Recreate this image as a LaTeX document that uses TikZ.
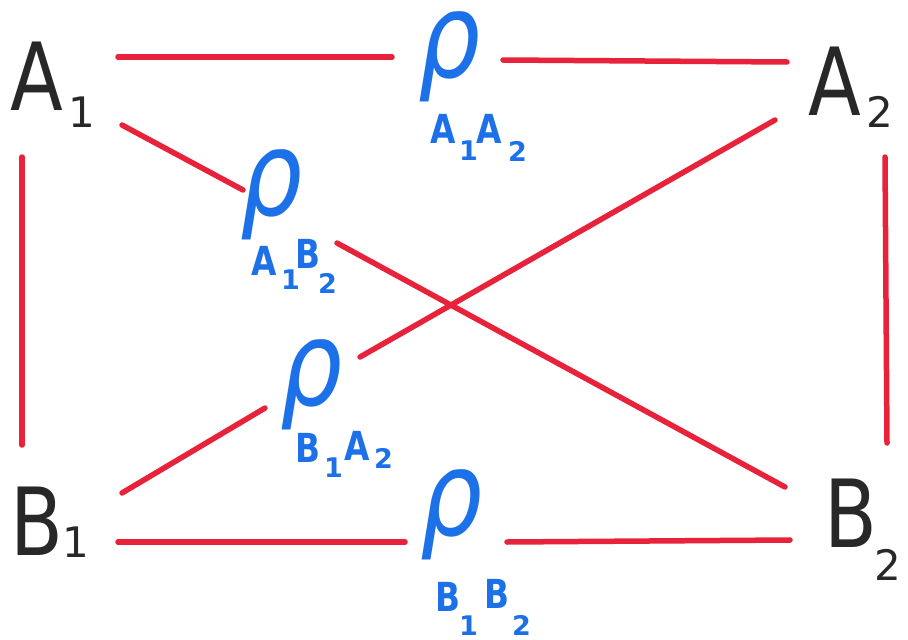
\documentclass[tikz,border=0pt]{standalone}
\usepackage{fontspec}
\setmainfont{DejaVu Sans}
\newfontfamily\rhofont{DejaVu Sans Oblique}
\usepackage{graphicx}
\definecolor{lred}{RGB}{232,34,58}
\definecolor{lblue}{RGB}{28,112,232}
\definecolor{ink}{RGB}{40,40,40}
\newcommand\narrowtxt[1]{\scalebox{0.82}[1]{#1}}
\tikzset{
  edge/.style={lred, line width=5.5pt, line cap=round},
  bigl/.style={inner sep=0pt, anchor=base west, text=ink, font=\fontsize{94}{94}\selectfont},
  bigsub/.style={inner sep=0pt, anchor=base west, text=ink, font=\fontsize{42}{42}\selectfont},
  rhol/.style={inner sep=0pt, anchor=base west, text=lblue, font=\rhofont\fontsize{98}{98}\selectfont},
  rsub/.style={inner sep=0pt, anchor=base west, text=lblue, font=\bfseries\fontsize{40}{40}\selectfont},
  rsubsub/.style={inner sep=0pt, anchor=base west, text=lblue, font=\bfseries\fontsize{27}{27}\selectfont}
}
\begin{document}
\begin{tikzpicture}[x=1pt,y=-1pt]
\useasboundingbox (0,0) rectangle (908,640);
\fill[white] (0,0) rectangle (908,640);
% corner labels
\node[bigl] (A1) at (10,110) {\narrowtxt{A}};
\node[bigsub] (A1s) at (68,127) {1};
\node[bigl] (A2) at (808,115) {\narrowtxt{A}};
\node[bigsub] (A2s) at (866,127) {2};
\node[bigl] (B1) at (10,555) {\narrowtxt{B}};
\node[bigsub] (B1s) at (62,557) {1};
\node[bigl] (B2) at (824,547) {\narrowtxt{B}};
\node[bigsub] (B2s) at (874,580) {2};
% rho labels
\begin{scope}[shift={(418,77)}]
 \node[rhol] (rAA) at (0,0) {\scalebox{1}[1.2]{ρ}};
 \node[rsub] (rAAa) at (12,66) {\narrowtxt{A}};
 \node[rsubsub] (rAAb) at (41,83) {1};
 \node[rsub] (rAAc) at (58,66) {\narrowtxt{A}};
 \node[rsubsub] (rAAd) at (90,84) {2};
\end{scope}
\begin{scope}[shift={(240,215)}]
 \node[rhol] (rAB) at (0,0) {\scalebox{1}[1.2]{ρ}};
 \node[rsub] (rABa) at (11,60) {\narrowtxt{A}};
 \node[rsubsub] (rABb) at (41,74) {1};
 \node[rsub] (rABc) at (55,53) {\narrowtxt{B}};
 \node[rsubsub] (rABd) at (78,78) {2};
\end{scope}
\begin{scope}[shift={(280,405)}]
 \node[rhol] (rBA) at (0,0) {\scalebox{1}[1.2]{ρ}};
 \node[rsub] (rBAa) at (15,57) {\narrowtxt{B}};
 \node[rsubsub] (rBAb) at (44,72) {1};
 \node[rsub] (rBAc) at (64,55) {\narrowtxt{A}};
 \node[rsubsub] (rBAd) at (94,63) {2};
\end{scope}
\begin{scope}[shift={(420,535)}]
 \node[rhol] (rBB) at (0,0) {\scalebox{1}[1.2]{ρ}};
 \node[rsub] (rBBa) at (15,76) {\narrowtxt{B}};
 \node[rsubsub] (rBBb) at (39,100) {1};
 \node[rsub] (rBBc) at (64,73) {\narrowtxt{B}};
 \node[rsubsub] (rBBd) at (92,100) {2};
\end{scope}
% connector end points
\coordinate (t1) at (118,57); \coordinate (t2) at (392,57);
\coordinate (t3) at (503,60); \coordinate (t4) at (787,62);
\coordinate (l1) at (22,157); \coordinate (l2) at (22,445);
\coordinate (r1) at (885,157); \coordinate (r2) at (887,443);
\coordinate (d1) at (122,125); \coordinate (d2) at (243,190);
\coordinate (d3) at (337,243); \coordinate (d4) at (785,487);
\coordinate (e1) at (122,493); \coordinate (e2) at (265,408);
\coordinate (e3) at (360,357); \coordinate (e4) at (775,120);
\coordinate (b1) at (118,542); \coordinate (b2) at (405,542);
\coordinate (b3) at (507,542); \coordinate (b4) at (790,540);
\draw[edge] (t1) -- (t2);
\draw[edge] (t3) -- (t4);
\draw[edge] (l1) -- (l2);
\draw[edge] (r1) -- (r2);
\draw[edge] (d1) -- (d2);
\draw[edge] (d3) -- (d4);
\draw[edge] (e1) -- (e2);
\draw[edge] (e3) -- (e4);
\draw[edge] (b1) -- (b2);
\draw[edge] (b3) -- (b4);
\end{tikzpicture}
\end{document}
